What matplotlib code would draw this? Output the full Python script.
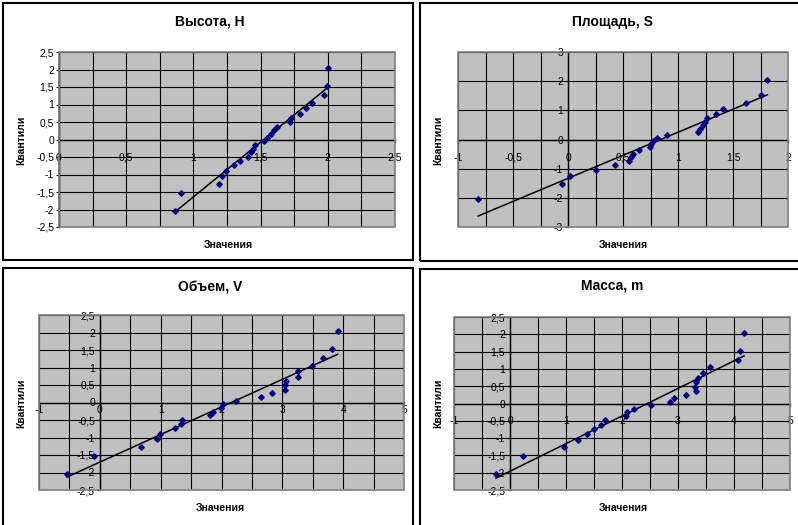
import numpy as np
import matplotlib
matplotlib.use('Agg')
import matplotlib.pyplot as plt
from matplotlib.patches import Rectangle

plt.rcParams['font.family'] = ['Liberation Sans', 'DejaVu Sans']

W, H = 798, 525

# normal quantiles (y axis), shared by all four panels
quant = [-2.04, -1.53, -1.26, -1.05, -0.89, -0.74, -0.61, -0.49, -0.37, -0.26, -0.16, -0.05,
         0.05, 0.16, 0.26, 0.37, 0.49, 0.61, 0.74, 0.89, 1.05, 1.26, 1.53, 2.04]

# standardized values (x axis)
h_vals = [0.86, 0.91, 1.19, 1.215, 1.24, 1.30, 1.345, 1.405, 1.43, 1.445, 1.457, 1.527,
          1.544, 1.574, 1.60, 1.624, 1.72, 1.728, 1.79, 1.835, 1.884, 1.974, 1.991, 2.003]
s_vals = [-0.817, -0.052, 0.021, 0.258, 0.428, 0.556, 0.574, 0.595, 0.641, 0.744, 0.753, 0.77,
          0.808, 0.896, 1.178, 1.196, 1.227, 1.245, 1.266, 1.345, 1.409, 1.616, 1.758, 1.812]
v_vals = [-0.54, -0.094, 0.68, 0.945, 0.995, 1.24, 1.34, 1.35, 1.81, 1.86, 1.99, 2.03,
          2.24, 2.65, 2.83, 3.04, 3.05, 3.06, 3.26, 3.26, 3.49, 3.67, 3.81, 3.91]
m_vals = [-0.25, 0.226, 0.964, 1.22, 1.37, 1.50, 1.625, 1.70, 2.07, 2.095, 2.22, 2.51,
          2.86, 2.93, 3.14, 3.32, 3.31, 3.33, 3.36, 3.45, 3.58, 4.08, 4.10, 4.18]

titles = ['Высота, H', 'Площадь, S', 'Объем, V', 'Масса, m']


def fmt(v):
    return ('%g' % v).replace('.', ',')


def px(l, r, t, b):
    return [l / W, 1 - b / H, (r - l) / W, (b - t) / H]


fig = plt.figure(figsize=(W / 100, H / 100), dpi=100)

# chart frames
for (x0, y0, x1, y1) in [(3, 3, 413, 260), (420, 3, 810, 261),
                         (3, 268, 413, 540), (420, 269, 810, 540)]:
    fig.add_artist(Rectangle((x0 / W, 1 - y1 / H), (x1 - x0) / W, (y1 - y0) / H,
                             transform=fig.transFigure, fill=False, ec='black', lw=1.5))

panels = [
    dict(data=h_vals, box=(59, 395, 52, 227), xlim=(0, 2.5), xmaj=0.5, xmin=0.25,
         ylim=(-2.5, 2.5), ymaj=0.5, xpad=7.0,
         title=(210, 22), ylab=(21, 140), xlab=(228, 245)),
    dict(data=s_vals, box=(458, 788, 52, 227), xlim=(-1, 2), xmaj=0.5, xmin=0.25,
         ylim=(-3, 3), ymaj=1, xpad=7.0,
         title=(612, 22), ylab=(438, 140), xlab=(623, 245)),
    dict(data=v_vals, box=(39, 404, 315, 490), xlim=(-1, 5), xmaj=1, xmin=0.5,
         ylim=(-2.5, 2.5), ymaj=0.5, xpad=-0.5,
         title=(210, 287), ylab=(21, 403), xlab=(220, 508)),
    dict(data=m_vals, box=(454, 790, 317, 490), xlim=(-1, 5), xmaj=1, xmin=0.5,
         ylim=(-2.5, 2.5), ymaj=0.5, xpad=6.5,
         title=(612, 286), ylab=(438, 403), xlab=(623, 508)),
]

for p, title in zip(panels, titles):
    l, r, t, b = p['box']
    ax = fig.add_axes(px(l, r, t, b))
    ax.set_facecolor('#C0C0C0')
    x = np.array(p['data'])
    y = np.array(quant)

    ax.set_xlim(*p['xlim'])
    ax.set_ylim(*p['ylim'])
    xt = np.arange(p['xlim'][0], p['xlim'][1] + 1e-9, p['xmaj'])
    yt = np.arange(p['ylim'][0], p['ylim'][1] + 1e-9, p['ymaj'])
    ax.set_xticks(xt)
    ax.set_xticklabels([fmt(v) for v in xt])
    ax.set_xticks(np.arange(p['xlim'][0], p['xlim'][1] + 1e-9, p['xmin']), minor=True)
    ax.set_yticks(yt)
    ax.set_yticklabels([fmt(v) for v in yt])
    ax.grid(True, which='both', color='black', lw=0.8)
    ax.set_axisbelow(True)

    for s in ['top', 'right']:
        ax.spines[s].set_visible(False)
    ax.spines['left'].set_position(('data', 0))
    ax.spines['bottom'].set_position(('data', 0))
    ax.spines['left'].set_linewidth(1.0)
    ax.spines['bottom'].set_linewidth(1.0)
    ax.tick_params(which='major', direction='out', length=2.5, width=0.8,
                   labelsize=7.5, pad=1, colors='black')
    ax.tick_params(axis='x', which='major', pad=p['xpad'])
    ax.tick_params(which='minor', length=0)
    ax.add_patch(Rectangle((0, 0), 1, 1, transform=ax.transAxes, fill=False,
                           ec='#808080', lw=1.2, clip_on=False, zorder=5))

    # linear trend line
    k, c = np.polyfit(x, y, 1)
    xs = np.array([x.min(), x.max()])
    ax.plot(xs, k * xs + c, color='black', lw=1.1, zorder=3)
    ax.plot(x, y, 'D', color='#000080', ms=2.8, zorder=4, clip_on=False)

    fig.text(p['title'][0] / W, 1 - p['title'][1] / H, title, ha='center', va='center',
             fontsize=10, fontweight='bold')
    fig.text(p['ylab'][0] / W, 1 - p['ylab'][1] / H, 'Квантили', ha='center', va='center',
             rotation=90, fontsize=7.5, fontweight='bold')
    fig.text(p['xlab'][0] / W, 1 - p['xlab'][1] / H, 'Значения', ha='center', va='center',
             fontsize=7.5, fontweight='bold')

fig.savefig('out.png', dpi=100)
